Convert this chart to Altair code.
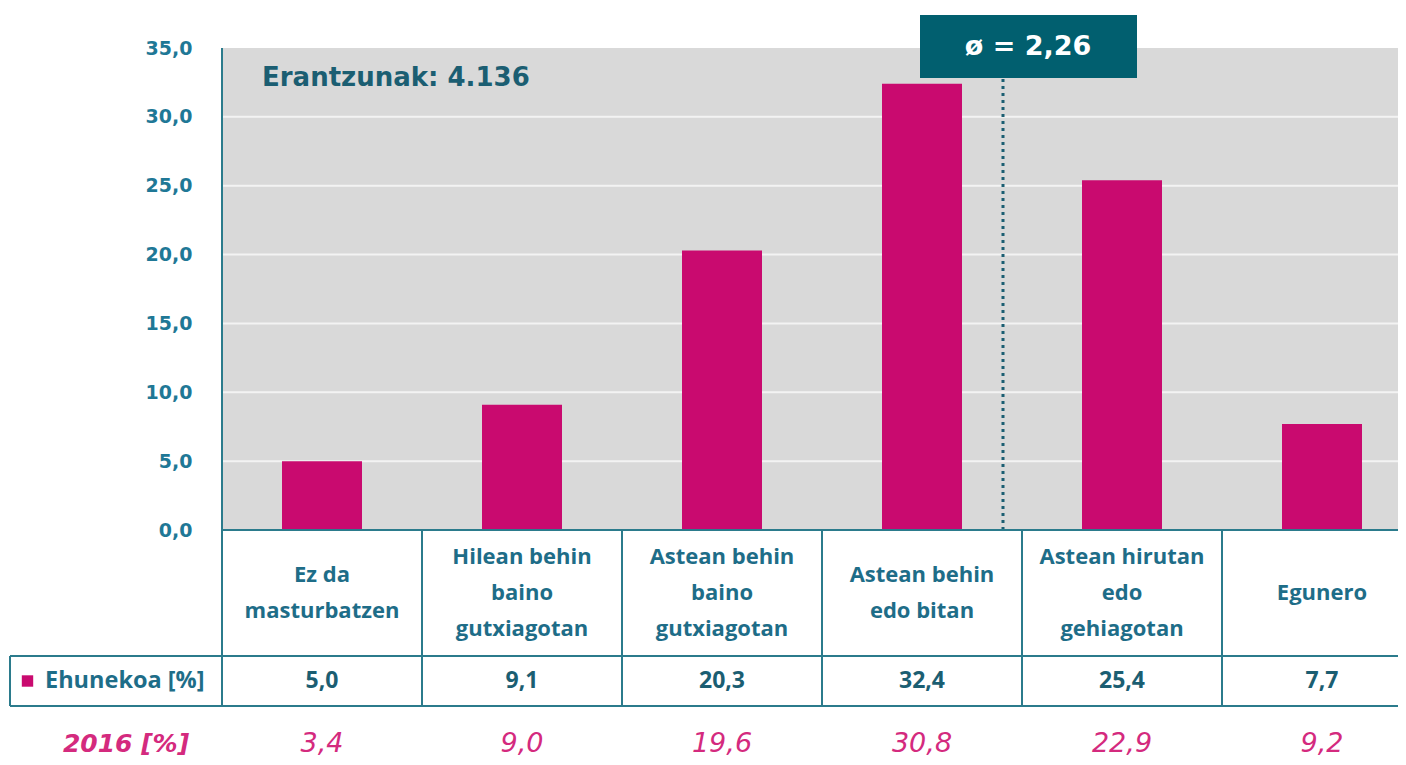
import altair as alt
import pandas as pd

# ---- data ----
categories = [
    "Ez da\nmasturbatzen",
    "Hilean behin\nbaino\ngutxiagotan",
    "Astean behin\nbaino\ngutxiagotan",
    "Astean behin\nedo bitan",
    "Astean hirutan\nedo\ngehiagotan",
    "Egunero",
]
values_now = [5.0, 9.1, 20.3, 32.4, 25.4, 7.7]
values_2016 = [3.4, 9.0, 19.6, 30.8, 22.9, 9.2]
y_ticks = [0, 5, 10, 15, 20, 25, 30, 35]
mean_text = "ø = 2,26"
responses_text = "Erantzunak: 4.136"
series_label = "Ehunekoa [%]"
prev_label = "2016 [%]"

# ---- styles ----
TEAL_AXIS = "#1f7896"
TEAL_TEXT = "#1e6d88"
TEAL_DARK = "#1b5e72"
TEAL_LINE = "#2b7b8c"
BOX = "#015f6f"
PINK = "#c90a6f"
PINK_TEXT = "#d42a7e"
GRAY = "#d9d9d9"

W, H = 1176, 482
COL = 200
LINE_H = 36

def fmt(v):
    return f"{v:.1f}".replace(".", ",")

df = pd.DataFrame({
    "i": list(range(len(categories))),
    "label": categories,
    "v": values_now,
    "v_txt": [fmt(v) for v in values_now],
    "v16_txt": [fmt(v) for v in values_2016],
})
one = pd.DataFrame({"k": [0]})
seps = pd.DataFrame({"b": [i + 0.5 for i in range(len(categories) - 1)]})
grid = pd.DataFrame({"g": y_ticks[1:-1]})

xs = alt.Scale(domain=[-0.5, -0.5 + W / COL], nice=False, zero=False)
ys = alt.Scale(domain=[0, 35], nice=False)

y_axis = alt.Axis(
    values=y_ticks,
    labelExpr="replace(format(datum.value, '.1f'), '.', ',')",
    title=None, ticks=False, domain=False, grid=False,
    labelPadding=30, labelFont="DejaVu Sans", labelFontWeight="bold",
    labelFontSize=19, labelColor=TEAL_AXIS,
)

base = alt.Chart(df)

gridlines = alt.Chart(grid).mark_rule(color="#f3f3f3", strokeWidth=2).encode(
    y=alt.Y("g:Q", scale=ys, axis=y_axis),
    x=alt.value(0), x2=alt.value(W),
)

bars = base.transform_calculate(
    xl="datum.i - 0.2", xr="datum.i + 0.2"
).mark_bar(color=PINK).encode(
    x=alt.X("xl:Q", scale=xs, axis=None),
    x2="xr:Q",
    y=alt.Y("v:Q", scale=ys, axis=y_axis),
    y2=alt.datum(0),
)

mean_line = alt.Chart(one).mark_rule(
    color=TEAL_DARK, strokeWidth=3, strokeDash=[3, 4]
).encode(
    x=alt.datum(3.405, scale=xs), y=alt.datum(0, scale=ys), y2=alt.datum(32.82),
)

box = alt.Chart(one).mark_rect(color=BOX).encode(
    x=alt.datum(2.99, scale=xs), x2=alt.datum(4.075),
    y=alt.datum(37.4, scale=ys), y2=alt.datum(32.82),
)
box_text = alt.Chart(one).mark_text(
    font="DejaVu Sans", fontWeight="bold", fontSize=27, color="white",
    align="center", baseline="middle",
).encode(
    x=alt.datum(3.53, scale=xs), y=alt.datum(35.1, scale=ys), text=alt.value(mean_text),
)

resp_text = alt.Chart(one).mark_text(
    font="DejaVu Sans", fontWeight="bold", fontSize=26, color=TEAL_DARK,
    align="left", baseline="middle",
).encode(
    x=alt.datum(-0.3, scale=xs), y=alt.datum(32.8, scale=ys), text=alt.value(responses_text),
)

cat_text = base.transform_calculate(
    ny=f"545 - (length(split(datum.label, '\\n')) - 1) * {LINE_H / 2}"
).mark_text(
    font="Open Sans", fontWeight="bold", fontSize=22, color=TEAL_TEXT,
    align="center", baseline="middle", lineBreak="\n", lineHeight=LINE_H,
).encode(
    x=alt.X("i:Q", scale=xs), y=alt.Y("ny:Q", scale=None), text="label:N",
)

val_text = base.mark_text(
    font="Open Sans", fontWeight="bold", fontSize=23, color=TEAL_DARK,
    align="center", baseline="middle",
).encode(
    x=alt.X("i:Q", scale=xs), y=alt.value(633), text="v_txt:N",
)

v16_text = base.mark_text(
    font="DejaVu Sans", fontStyle="italic", fontSize=27, color=PINK_TEXT,
    align="center", baseline="middle",
).encode(
    x=alt.X("i:Q", scale=xs), y=alt.value(696), text="v16_txt:N",
)

legend_sq = alt.Chart(one).mark_point(
    shape="square", filled=True, color=PINK, size=130, opacity=1
).encode(x=alt.value(-194.5), y=alt.value(633))

legend_txt = alt.Chart(one).mark_text(
    font="Open Sans", fontWeight="bold", fontSize=23.5, color=TEAL_TEXT,
    align="left", baseline="middle",
).encode(x=alt.value(-177), y=alt.value(633), text=alt.value(series_label))

prev_txt = alt.Chart(one).mark_text(
    font="DejaVu Sans", fontWeight="bold", fontStyle="italic", fontSize=25, color=PINK_TEXT,
    align="center", baseline="middle",
).encode(x=alt.value(-96), y=alt.value(696), text=alt.value(prev_label))

line_kw = dict(color=TEAL_LINE, strokeWidth=2)
baseline = alt.Chart(one).mark_rule(**line_kw).encode(
    x=alt.value(0), x2=alt.value(W), y=alt.value(H))
left_axis = alt.Chart(one).mark_rule(**line_kw).encode(
    x=alt.value(0), y=alt.value(0), y2=alt.value(658))
col_seps = alt.Chart(seps).mark_rule(**line_kw).encode(
    x=alt.X("b:Q", scale=xs), y=alt.value(H), y2=alt.value(658))
h1 = alt.Chart(one).mark_rule(**line_kw).encode(
    x=alt.value(-212), x2=alt.value(W), y=alt.value(608))
h2 = alt.Chart(one).mark_rule(**line_kw).encode(
    x=alt.value(-212), x2=alt.value(W), y=alt.value(658))
v_left = alt.Chart(one).mark_rule(**line_kw).encode(
    x=alt.value(-212), y=alt.value(608), y2=alt.value(658))

chart = alt.layer(
    gridlines, bars, mean_line, box, box_text, resp_text,
    baseline, left_axis, col_seps, h1, h2, v_left,
    cat_text, val_text, v16_text, legend_sq, legend_txt, prev_txt,
).properties(
    width=W, height=H,
    autosize=alt.AutoSizeParams(type="none"),
    padding={"left": 214, "top": 40, "right": 0, "bottom": 235},
    background="white",
).configure_view(fill=GRAY, stroke=None)

chart.save("out.html", embed_options={"renderer": "svg", "actions": False})
